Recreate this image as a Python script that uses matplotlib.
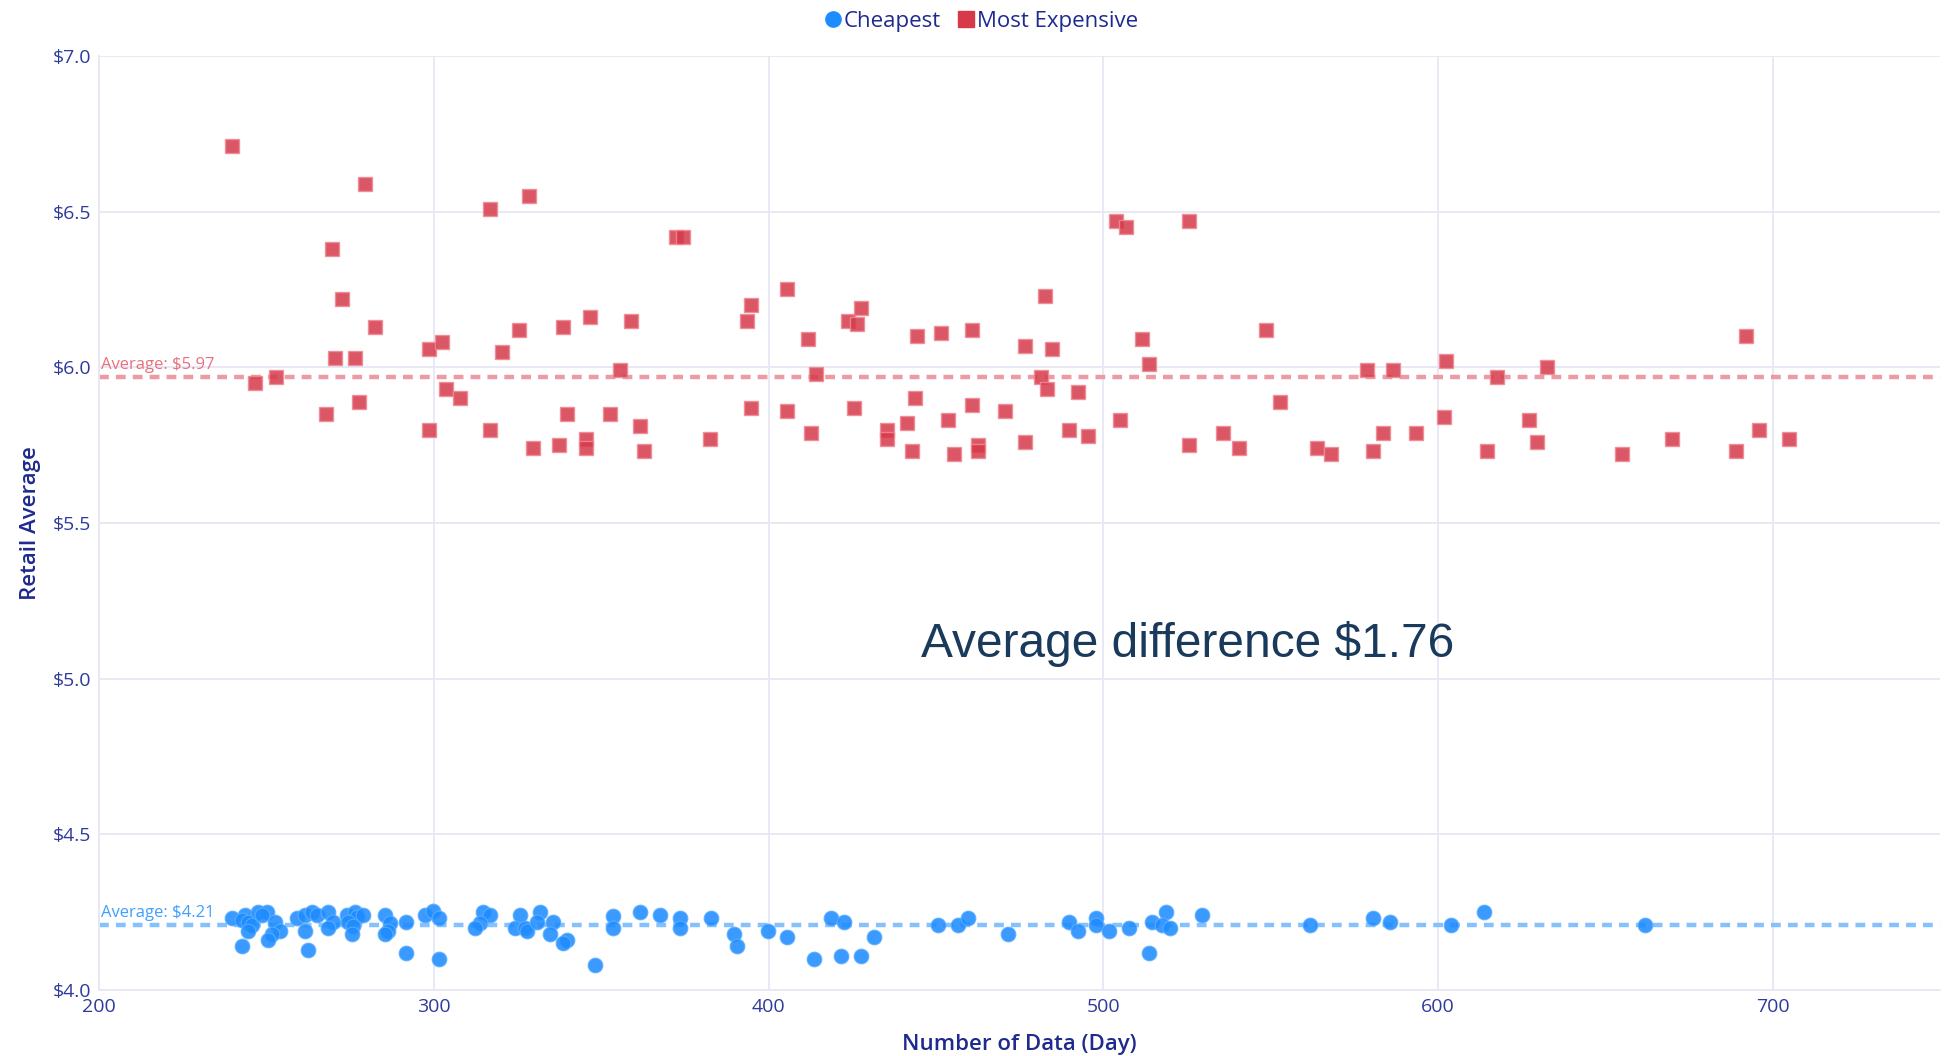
import matplotlib
matplotlib.use("Agg")
import matplotlib.pyplot as plt
from matplotlib.lines import Line2D

# ---------------- data ----------------
exp_days = [239.7, 246.4, 252.7, 267.6, 269.4, 270.5, 272.4, 276.5, 277.6, 279.4, 282.4,
            298.4, 298.4, 302.5, 303.6, 307.7, 316.6, 316.6, 320.4, 325.5, 328.5, 329.5,
            337.4, 338.4, 339.6, 345.5, 345.5, 346.6, 352.6, 355.6, 358.9, 361.5, 362.6,
            372.3, 374.5, 382.3, 393.5, 394.6, 394.6, 405.4, 405.4, 411.7, 412.5, 414.2,
            423.6, 425.4, 426.5, 427.6, 435.4, 435.4, 441.4, 442.9, 443.6, 444.4, 451.4,
            453.7, 455.2, 460.6, 460.6, 462.4, 462.4, 470.7, 476.6, 476.6, 481.4, 482.5,
            483.2, 484.7, 489.6, 492.5, 495.5, 503.7, 504.8, 506.6, 511.4, 513.7, 525.5,
            525.5, 535.6, 540.4, 548.5, 552.6, 563.8, 567.9, 578.7, 580.5, 583.5, 586.4,
            593.5, 601.6, 602.4, 614.7, 617.7, 627.0, 629.6, 632.6, 654.9, 669.8, 689.1,
            692.1, 695.8, 704.7]
exp_price = [6.71, 5.95, 5.97, 5.85, 6.38, 6.03, 6.22, 6.03, 5.89, 6.59, 6.13,
             5.80, 6.06, 6.08, 5.93, 5.90, 6.51, 5.80, 6.05, 6.12, 6.55, 5.74,
             5.75, 6.13, 5.85, 5.77, 5.74, 6.16, 5.85, 5.99, 6.15, 5.81, 5.73,
             6.42, 6.42, 5.77, 6.15, 6.20, 5.87, 6.25, 5.86, 6.09, 5.79, 5.98,
             6.15, 5.87, 6.14, 6.19, 5.80, 5.77, 5.82, 5.73, 5.90, 6.10, 6.11,
             5.83, 5.72, 6.12, 5.88, 5.75, 5.73, 5.86, 6.07, 5.76, 5.97, 6.23,
             5.93, 6.06, 5.80, 5.92, 5.78, 6.47, 5.83, 6.45, 6.09, 6.01, 6.47,
             5.75, 5.79, 5.74, 6.12, 5.89, 5.74, 5.72, 5.99, 5.73, 5.79, 5.99,
             5.79, 5.84, 6.02, 5.73, 5.97, 5.83, 5.76, 6.00, 5.72, 5.77, 5.73,
             6.10, 5.80, 5.77]

cheap_days = [239.5, 242.5, 243.5, 242.5, 244.5, 245.5, 244.5, 247.5, 250.0, 248.5,
              252.5, 254.0, 251.5, 250.5, 259.0, 261.4, 263.4, 264.9, 261.4, 262.4,
              268.4, 269.9, 268.4, 273.9, 276.4, 276.9, 278.9, 274.4, 275.9, 275.4,
              285.3, 286.8, 286.3, 285.3, 291.5, 291.5, 297.3, 299.8, 301.5, 301.5,
              314.7, 316.7, 313.7, 312.2, 325.7, 324.2, 327.2, 327.7, 331.7, 330.7,
              335.6, 334.6, 339.6, 338.6, 348.1,
              353.6, 353.6, 361.5, 367.5, 373.5, 373.5, 382.6, 389.6, 390.6, 399.7,
              405.5, 413.6, 418.6, 422.6, 421.6, 427.6, 431.5, 450.7, 456.6, 459.6,
              471.6, 489.7, 492.5, 497.7, 497.7, 501.6, 507.6, 514.6, 513.6, 518.6,
              517.6, 519.9, 529.5, 561.7, 580.6, 585.6, 603.7, 613.7, 661.8]
cheap_price = [4.23, 4.14, 4.24, 4.225, 4.22, 4.21, 4.19, 4.25, 4.25, 4.24,
               4.22, 4.19, 4.18, 4.16, 4.23, 4.24, 4.25, 4.24, 4.19, 4.13,
               4.25, 4.22, 4.20, 4.24, 4.25, 4.235, 4.24, 4.22, 4.205, 4.18,
               4.24, 4.215, 4.19, 4.18, 4.22, 4.12, 4.24, 4.255, 4.23, 4.10,
               4.25, 4.24, 4.215, 4.20, 4.24, 4.20, 4.20, 4.19, 4.25, 4.22,
               4.22, 4.18, 4.16, 4.15, 4.08,
               4.237, 4.20, 4.25, 4.24, 4.23, 4.20, 4.23, 4.18, 4.14, 4.19,
               4.17, 4.10, 4.23, 4.22, 4.11, 4.11, 4.17, 4.21, 4.21, 4.23,
               4.18, 4.22, 4.19, 4.23, 4.21, 4.19, 4.20, 4.22, 4.12, 4.25,
               4.21, 4.20, 4.24, 4.21, 4.23, 4.22, 4.21, 4.25, 4.21]

avg_expensive = 5.97
avg_cheapest = 4.21
avg_difference = 1.76

x_ticks = [200, 300, 400, 500, 600, 700]
y_ticks = [4.0, 4.5, 5.0, 5.5, 6.0, 6.5, 7.0]
y_tick_labels = ["$4.0", "$4.5", "$5.0", "$5.5", "$6.0", "$6.5", "$7.0"]

# ---------------- style ----------------
FONT = ["Open Sans", "DejaVu Sans"]
plt.rcParams["font.family"] = FONT
GRID = "#E6E7F4"
TICK_C = "#2E3A9C"
TITLE_C = "#1F2A8E"
BLUE = "#1E8CFF"
BLUE_LINE = "#86C1FF"
RED = "#D63A4A"
RED_LINE = "#EC9AA3"

fig = plt.figure(figsize=(19.48, 10.56), dpi=100)
ax = fig.add_axes([0.051, 0.0625, 0.945, 0.8845])

ax.set_xlim(200, 750)
ax.set_ylim(4.0, 7.0)
ax.set_xticks(x_ticks)
ax.set_yticks(y_ticks)
ax.set_yticklabels(y_tick_labels)
ax.grid(True, color=GRID, linewidth=1.3, zorder=0)
ax.set_axisbelow(True)
for s in ["top", "right"]:
    ax.spines[s].set_visible(False)
for s in ["left", "bottom"]:
    ax.spines[s].set_color(GRID)
    ax.spines[s].set_linewidth(1.3)
ax.tick_params(axis="both", length=0, labelsize=14, labelcolor=TICK_C, pad=6)

# average lines
ax.axhline(avg_expensive, color=RED_LINE, linestyle=(0, (2.2, 1.6)), linewidth=3.2, zorder=1)
ax.axhline(avg_cheapest, color=BLUE_LINE, linestyle=(0, (2.2, 1.6)), linewidth=3.2, zorder=1)
ax.text(200.5, avg_expensive + 0.012, f"Average: ${avg_expensive:.2f}", color="#E8707C",
        fontsize=12, ha="left", va="bottom", zorder=2)
ax.text(200.5, avg_cheapest + 0.012, f"Average: ${avg_cheapest:.2f}", color="#3FA0FF",
        fontsize=12, ha="left", va="bottom", zorder=2)

# scatter
ax.scatter(cheap_days, cheap_price, s=112, marker="o", color=BLUE, alpha=0.88,
           edgecolors="#5AAEFF", linewidths=0.8, zorder=3)
ax.scatter(exp_days, exp_price, s=110, marker="s", color=RED, alpha=0.85,
           edgecolors="#F08A95", linewidths=1.0, zorder=3)

ax.text(525, 5.11, f"Average difference ${avg_difference:.2f}", color="#1A3A5C",
        fontsize=34.5, ha="center", va="center", family=["Liberation Sans", "DejaVu Sans"])

ax.set_xlabel("Number of Data (Day)", fontsize=16, color=TITLE_C, fontweight="semibold", labelpad=13)
ax.set_ylabel("Retail Average", fontsize=16, color=TITLE_C, fontweight="semibold", labelpad=8)

handles = [
    Line2D([], [], marker="o", linestyle="", color=BLUE, markersize=11, label="Cheapest"),
    Line2D([], [], marker="s", linestyle="", color=RED, markersize=11, label="Most Expensive"),
]
leg = fig.legend(handles=handles, loc="center", bbox_to_anchor=(0.503, 0.98), ncol=2,
                 frameon=False, fontsize=16, handletextpad=0.0, columnspacing=0.6,
                 handlelength=1.0, borderpad=0)
for t in leg.get_texts():
    t.set_color(TITLE_C)

fig.savefig("out.png", dpi=100, facecolor="white")
